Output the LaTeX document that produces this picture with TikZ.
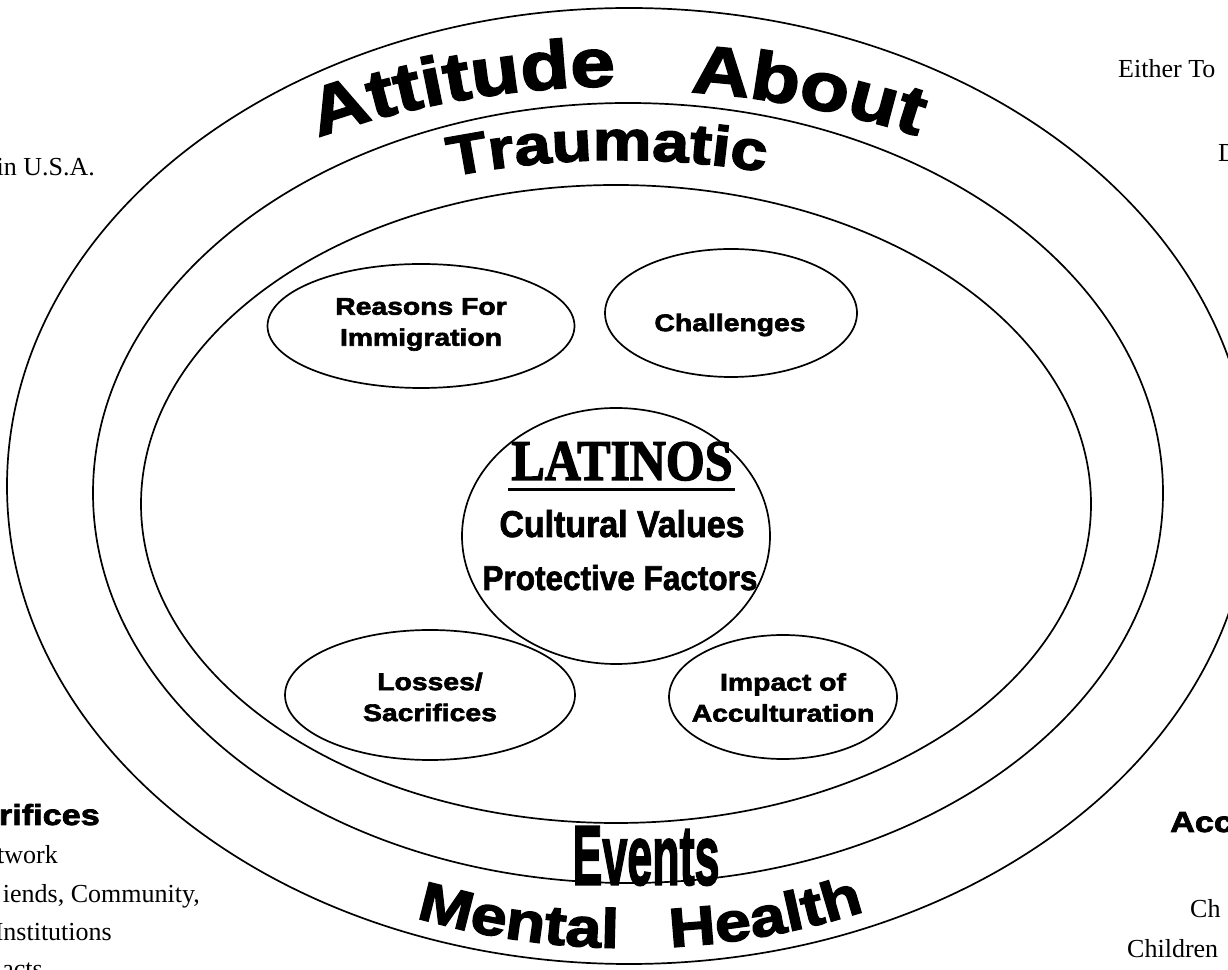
\documentclass[tikz,border=0pt]{standalone}
\usepackage{fontspec}
\usepackage{graphicx}
\usetikzlibrary{shapes.geometric,decorations.text}
\setmainfont{Liberation Serif}
\newfontfamily\heavysans{Liberation Sans Bold}[FakeBold=2.6,FakeStretch=1.18]
\newfontfamily\boldsans{Liberation Sans Bold}[FakeBold=2]
\newfontfamily\boldserif{Liberation Serif Bold}[FakeBold=2.5]

\begin{document}
\begin{tikzpicture}[x=1pt,y=1pt,
  ring/.style={line width=1.7pt},
  bubble/.style={draw, line width=1.7pt, ellipse, inner sep=0pt},
  bubbletext/.style={inner sep=0pt, align=center, font=\heavysans\fontsize{24}{31}\selectfont},
  sidenote/.style={inner sep=0pt, font=\fontsize{26}{32}\selectfont},
  sidehead/.style={inner sep=0pt, font=\heavysans\fontsize{29}{34}\selectfont},
  ringtext/.style={decorate, decoration={text along path, text align=center, text={#1}}}
]
\useasboundingbox (0,0) rectangle (1228,969);
\clip (0,0) rectangle (1228,969);

% three nested rings
\draw[ring] (629,483) ellipse [x radius=622, y radius=478];
\draw[ring] (628,476) ellipse [x radius=535, y radius=390];
\draw[ring] (616,465) ellipse [x radius=475, y radius=319];

% words set along the rings
\path[ringtext={|\heavysans\fontsize{68}{68}\selectfont|Attitude}]
  ([shift={(125.4:625 and 400)}]625,483) arc[start angle=125.4, end angle=85.4, x radius=625, y radius=400];
\path[ringtext={|\heavysans\fontsize{68}{68}\selectfont|About}]
  ([shift={(92.6:625 and 396)}]625,483) arc[start angle=92.6, end angle=52.6, x radius=625, y radius=396];
\path[ringtext={|\heavysans\fontsize{56}{56}\selectfont|Traumatic}]
  ([shift={(116.4:545 and 336)}]620,473) arc[start angle=116.4, end angle=66.4, x radius=545, y radius=336];
\path[ringtext={|\heavysans\fontsize{55}{55}\selectfont|Mental}]
  ([shift={(238.8:600 and 462)}]630,483) arc[start angle=238.8, end angle=278.8, x radius=600, y radius=462];
\path[ringtext={|\heavysans\fontsize{55}{55}\selectfont|Health}]
  ([shift={(263.7:600 and 462)}]630,483) arc[start angle=263.7, end angle=303.7, x radius=600, y radius=462];

\node[inner sep=0pt] (events) at (646,113) {\resizebox{147pt}{58pt}{\heavysans Events}};

% central core
\node[bubble, minimum width=308, minimum height=256] (core) at (616,433) {};
\node[inner sep=0pt, anchor=base] (latinos) at (622,489) {\resizebox{221pt}{38pt}{\boldserif LATINOS}};
\draw[line width=3pt] ([xshift=-3pt,yshift=-9.5pt]latinos.base west) -- ([xshift=2pt,yshift=-9.5pt]latinos.base east);
\node[inner sep=0pt, anchor=base] (values) at (622,432) {\resizebox{245pt}{27pt}{\boldsans Cultural Values}};
\node[inner sep=0pt, anchor=base] (factors) at (620,379) {\resizebox{275pt}{25pt}{\boldsans Protective Factors}};

% four satellite bubbles
\node[bubble, minimum width=307, minimum height=124] (reasons) at (421,643) {};
\node[bubble, minimum width=252, minimum height=128] (challenges) at (731,656) {};
\node[bubble, minimum width=290, minimum height=130] (losses) at (430,274) {};
\node[bubble, minimum width=228, minimum height=124] (impact) at (783,272) {};

\node[bubbletext] (reasonsT) at (421,644.5) {Reasons For\\Immigration};
\node[bubbletext] (challengesT) at (730,644) {Challenges};
\node[bubbletext] (lossesT) at (430,272) {Losses/\\Sacrifices};
\node[bubbletext] (impactT) at (783,271.5) {Impact of\\Acculturation};

% notes running past the page edges
\node[sidenote, anchor=base east] (usa) at (95,793) {in U.S.A.};
\node[sidenote, anchor=base west] (either) at (1118,891) {Either To};
\node[sidenote, anchor=base west] (dnote) at (1218,807) {D};
\node[sidehead, anchor=base east] (sacr) at (100,144) {rifices};
\node[sidenote, anchor=base east] (net) at (58,106) {twork};
\node[sidenote, anchor=base east] (friends) at (200,67) {iends, Community,};
\node[sidenote, anchor=base east] (inst) at (112,29) {Institutions};
\node[sidenote, anchor=base east] (acts) at (43,-8) {acts};
\node[sidehead, anchor=base west] (acc) at (1170,137) {Acc};
\node[sidenote, anchor=base west] (ch) at (1190,52) {Ch};
\node[sidenote, anchor=base west] (kids) at (1127,12) {Children};
\end{tikzpicture}
\end{document}
